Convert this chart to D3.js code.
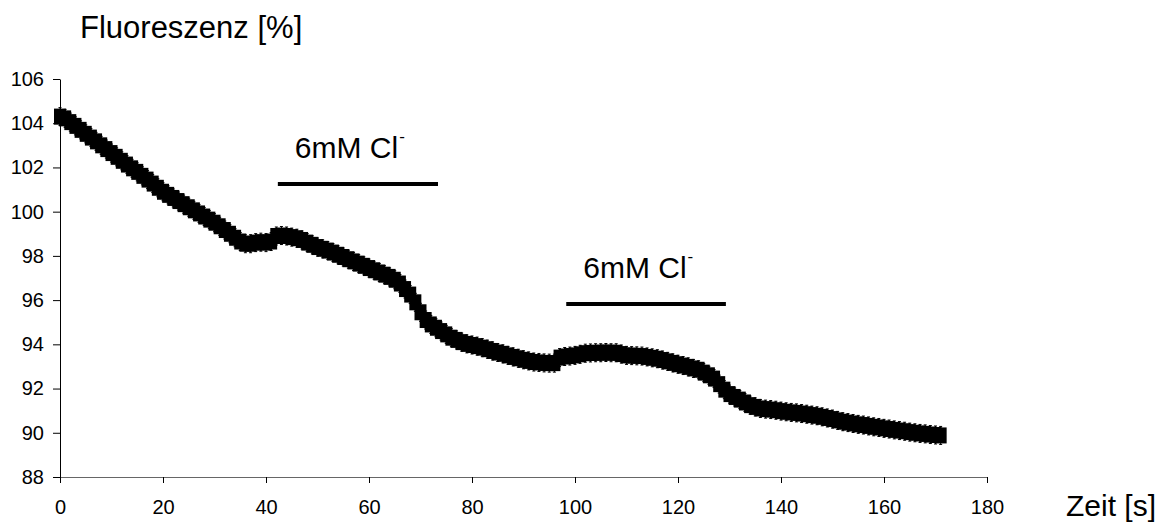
<!DOCTYPE html>
<html>
<head>
<meta charset="utf-8">
<script src="https://cdn.jsdelivr.net/npm/d3@7"></script>
<style>
  body { margin: 0; background: #fff; }
  svg { display: block; font-family: "Liberation Sans", Arial, sans-serif; }
</style>
</head>
<body>
<svg id="chart" width="1162" height="522"></svg>
<script>
// Fluorescence trace, one reading per second
const timeStart = 0;
const fluorescence = [
  104.30, 104.22, 104.05, 103.88, 103.70, 103.52, 103.35, 103.18, 103.00, 102.83, 102.65,
  102.48, 102.30, 102.13, 101.96, 101.80, 101.62, 101.45, 101.27, 101.08, 100.90,
  100.76, 100.62, 100.48, 100.34, 100.20, 100.06, 99.92, 99.78, 99.64, 99.50,
  99.34, 99.17, 99.00, 98.82, 98.65, 98.55, 98.55, 98.60, 98.62, 98.60,
  98.65, 98.90, 98.92, 98.90, 98.85, 98.80, 98.72, 98.60, 98.50, 98.40,
  98.32, 98.24, 98.15, 98.05, 97.95, 97.85, 97.75, 97.65, 97.55, 97.45,
  97.35, 97.25, 97.15, 97.05, 96.92, 96.75, 96.50, 96.25, 95.90, 95.45,
  95.10, 94.90, 94.75, 94.60, 94.45, 94.30, 94.20, 94.10, 94.02, 93.97,
  93.92, 93.85, 93.78, 93.70, 93.63, 93.57, 93.50, 93.43, 93.37, 93.30,
  93.25, 93.20, 93.18, 93.16, 93.15, 93.15, 93.40, 93.45, 93.47, 93.50,
  93.55, 93.60, 93.61, 93.62, 93.62, 93.63, 93.62, 93.62, 93.56, 93.50,
  93.49, 93.48, 93.47, 93.43, 93.39, 93.35, 93.29, 93.23, 93.16, 93.10,
  93.04, 92.98, 92.91, 92.85, 92.72, 92.60, 92.45, 92.20, 91.95, 91.75,
  91.62, 91.50, 91.37, 91.25, 91.17, 91.10, 91.07, 91.05, 91.02, 90.98,
  90.95, 90.92, 90.90, 90.87, 90.84, 90.80, 90.77, 90.72, 90.67, 90.62,
  90.56, 90.50, 90.46, 90.42, 90.38, 90.35, 90.31, 90.27, 90.24, 90.20,
  90.17, 90.13, 90.10, 90.07, 90.03, 90.00, 89.97, 89.95, 89.92, 89.90, 89.88
];

const xTicks = [0, 20, 40, 60, 80, 100, 120, 140, 160, 180];
const yTicks = [88, 90, 92, 94, 96, 98, 100, 102, 104, 106];

// Application periods (bars) with their labels
const pulseLabels = ['6mM Cl', '6mM Cl'];
const pulseStart = [42.3, 98.3];
const pulseEnd = [73.4, 129.3];
const pulseLevel = [101.25, 95.82];

const svg = d3.select('#chart');

const x = d3.scaleLinear().domain([0, 180]).range([60, 987]);
const y = d3.scaleLinear().domain([88, 106]).range([477, 79]);

// axes
const xAxis = svg.append('g')
  .attr('transform', 'translate(0,477)')
  .call(d3.axisBottom(x).tickValues(xTicks).tickSize(6).tickPadding(17).tickSizeOuter(0));
const yAxis = svg.append('g')
  .attr('transform', 'translate(60,0)')
  .call(d3.axisLeft(y).tickValues(yTicks).tickSize(7).tickPadding(9).tickSizeOuter(0));

[xAxis, yAxis].forEach(a => {
  a.select('.domain').attr('stroke', '#000');
  a.selectAll('.tick line').attr('stroke', '#000');
  a.selectAll('.tick text')
    .attr('fill', '#000')
    .style('font-size', '20px')
    .style('font-family', '"Liberation Sans", Arial, sans-serif');
});
xAxis.select('.domain').attr('stroke', '#666');

// data points: square markers with small error bars
const points = fluorescence.map((v, i) => ({ t: timeStart + i, v }));
const halfW = 6;
const halfH = 8;
const err = 9;
const marks = svg.append('g').attr('class', 'trace');

marks.selectAll('path.err')
  .data(points)
  .enter()
  .append('path')
  .attr('class', 'err')
  .attr('d', d => {
    const cx = x(d.t), cy = y(d.v);
    return `M${cx},${cy - err}V${cy + err}` +
      `M${cx - 1.5},${cy - err}H${cx + 1.5}M${cx - 1.5},${cy + err}H${cx + 1.5}`;
  })
  .attr('stroke', '#000')
  .attr('stroke-width', 1);

marks.selectAll('rect')
  .data(points)
  .enter()
  .append('rect')
  .attr('x', d => x(d.t) - halfW)
  .attr('y', d => y(d.v) - halfH)
  .attr('width', halfW * 2)
  .attr('height', halfH * 2)
  .attr('fill', '#000');

// pulse bars + labels
const pulses = pulseLabels.map((label, i) => ({
  label, x0: pulseStart[i], x1: pulseEnd[i], y: pulseLevel[i]
}));

svg.append('g').selectAll('line')
  .data(pulses)
  .enter()
  .append('line')
  .attr('x1', d => x(d.x0))
  .attr('x2', d => x(d.x1))
  .attr('y1', d => y(d.y))
  .attr('y2', d => y(d.y))
  .attr('stroke', '#000')
  .attr('stroke-width', 4);

const lbl = svg.append('g').selectAll('text')
  .data(pulses)
  .enter()
  .append('text')
  .attr('x', d => x(d.x0) + 17)
  .attr('y', d => y(d.y) - 26)
  .style('font-size', '30px')
  .attr('fill', '#000');
lbl.append('tspan').text(d => d.label);
lbl.append('tspan')
  .attr('dy', -16)
  .attr('dx', 1)
  .style('font-size', '17px')
  .text('-');

// axis titles
svg.append('text')
  .attr('x', 80)
  .attr('y', 38)
  .style('font-size', '31px')
  .attr('fill', '#000')
  .text('Fluoreszenz [%]');

svg.append('text')
  .attr('x', 1066)
  .attr('y', 516)
  .style('font-size', '30px')
  .attr('fill', '#000')
  .text('Zeit [s]');
</script>
</body>
</html>
